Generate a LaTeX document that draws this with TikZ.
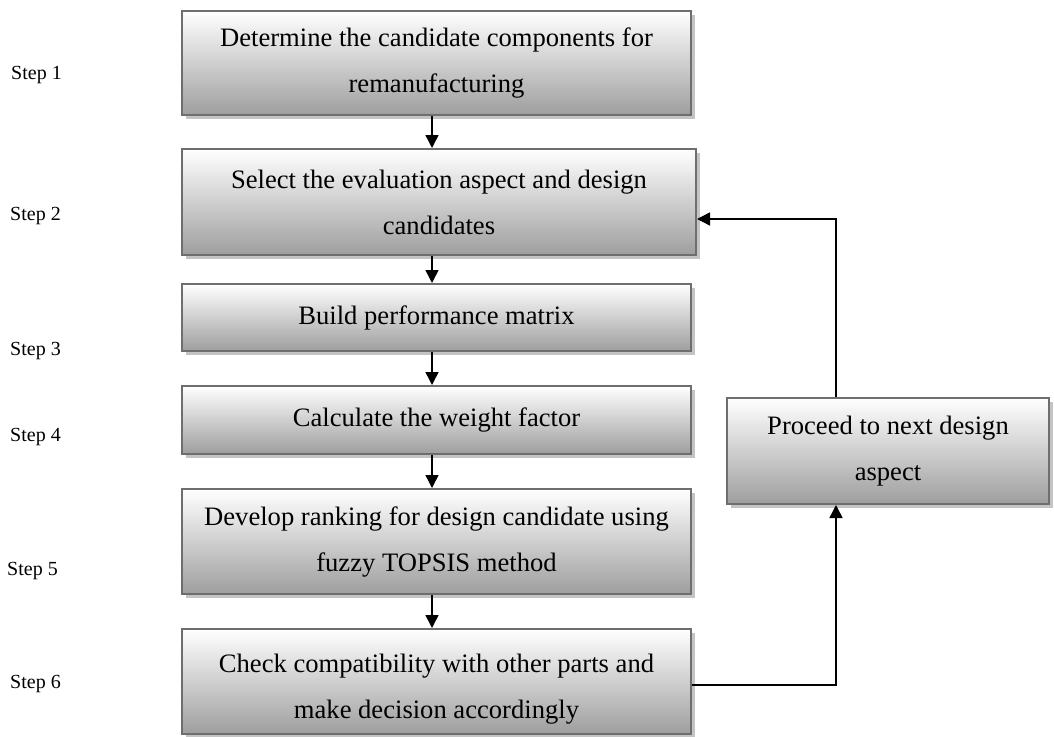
\documentclass[tikz,border=0pt]{standalone}
\usepackage{fontspec}
\setmainfont{Liberation Serif}
\usetikzlibrary{arrows.meta,shadows,calc}
\definecolor{boxborder}{HTML}{6E6E6E}
\definecolor{boxshadow}{HTML}{C4C4C4}
\begin{document}
\begin{tikzpicture}[x=1pt,y=-1pt,
  stepbox/.style={draw=boxborder, line width=2pt, rectangle, inner sep=0pt,
    top color=white, bottom color=black!38, align=center,
    font=\fontsize{26.6}{46}\selectfont,
    drop shadow={shadow xshift=4pt, shadow yshift=-4pt, fill=boxshadow, opacity=1}},
  steplabel/.style={anchor=west, inner sep=0pt, font=\fontsize{20}{24}\selectfont},
  arr/.style={line width=1.5pt, -{Triangle[length=13pt,width=13pt]}}]
\useasboundingbox (0,0) rectangle (1054,736);
\node[stepbox, minimum width=509pt, minimum height=104pt] (b1) at (436.5,63) {Determine the candidate components for\\remanufacturing};
\node[stepbox, minimum width=514pt, minimum height=106pt] (b2) at (439,202) {Select the evaluation aspect and design\\candidates};
\node[stepbox, minimum width=509pt, minimum height=67pt] (b3) at (436.5,317.5) {Build performance matrix};
\node[stepbox, minimum width=509pt, minimum height=68pt] (b4) at (436.5,420) {Calculate the weight factor};
\node[stepbox, minimum width=509pt, minimum height=105pt] (b5) at (436.5,541.5) {Develop ranking for design candidate using\\fuzzy TOPSIS method};
\node[stepbox, minimum width=509pt, minimum height=105pt] (b6) at (436.5,681.5) {\rule{0pt}{34pt}Check compatibility with other parts and\\make decision accordingly};
\node[stepbox, minimum width=322pt, minimum height=106pt] (p) at (888,451) {Proceed to next design\\aspect};
\node[steplabel] (s1) at (11,75) {Step 1};
\node[steplabel] (s2) at (10,216) {Step 2};
\node[steplabel] (s3) at (10,351) {Step 3};
\node[steplabel] (s4) at (10,437) {Step 4};
\node[steplabel] (s5) at (7,571) {Step 5};
\node[steplabel] (s6) at (10,684) {Step 6};
\coordinate (ax) at (432,0);
\coordinate (fx) at (836,0);
\draw[arr] (b1.south -| ax) -- (b2.north -| ax);
\draw[arr] (b2.south -| ax) -- (b3.north -| ax);
\draw[arr] (b3.south -| ax) -- (b4.north -| ax);
\draw[arr] (b4.south -| ax) -- (b5.north -| ax);
\draw[arr] (b5.south -| ax) -- (b6.north -| ax);
\draw[arr] ([yshift=-3.5pt]b6.east) -| (p.south -| fx);
\draw[arr] (p.north -| fx) |- ([yshift=-17pt]b2.east);
\end{tikzpicture}
\end{document}
